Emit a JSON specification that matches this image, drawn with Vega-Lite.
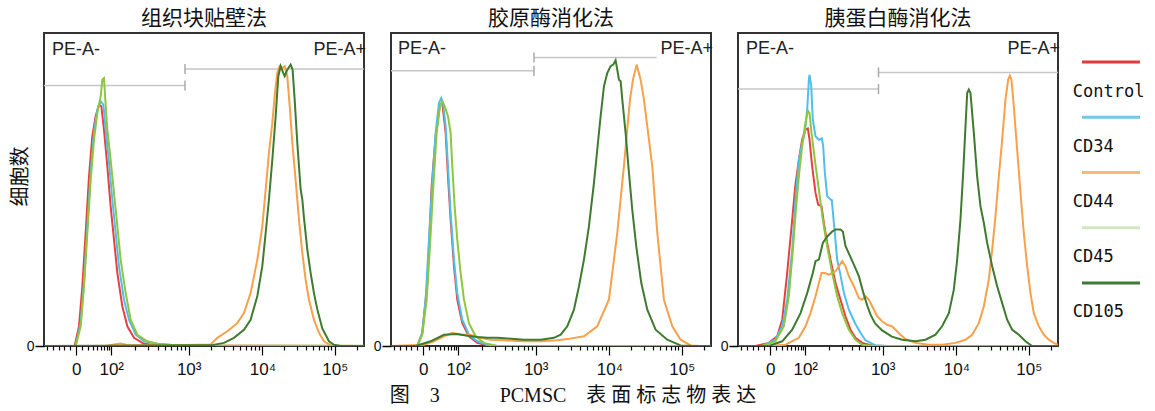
{
  "$schema": "https://vega.github.io/schema/vega-lite/v6.json",
  "background": "white",
  "padding": {"left": 9, "top": 7, "right": 5, "bottom": 5},
  "config": {
    "view": {"stroke": "#333", "strokeWidth": 2},
    "font": "Liberation Sans",
    "title": {"font": "Noto Sans CJK SC", "fontSize": 21, "fontWeight": "normal", "color": "#111", "offset": 4},
    "axis": {"labelFont": "Liberation Sans", "labelColor": "#111", "tickColor": "#111", "domain": false, "grid": false}
  },
  "datasets": {
    "gates": [
      {"p": 1, "gate": "PE-A-", "x": -0.44, "x2": 1.49, "y": 83.2},
      {"p": 1, "gate": "PE-A+", "x": 1.49, "x2": 3.94, "y": 88.5},
      {"p": 2, "gate": "PE-A-", "x": -0.44, "x2": 1.517, "y": 87.9},
      {"p": 2, "gate": "PE-A+", "x": 1.517, "x2": 3.196, "y": 92.2},
      {"p": 3, "gate": "PE-A-", "x": -0.44, "x2": 1.483, "y": 82.1},
      {"p": 3, "gate": "PE-A+", "x": 1.483, "x2": 3.94, "y": 87.4}
    ],
    "caps": [
      {"p": 1, "x": 1.49, "y": 81.6, "y2": 84.8},
      {"p": 1, "x": 1.49, "y": 86.9, "y2": 90.1},
      {"p": 2, "x": 1.517, "y": 86.3, "y2": 89.5},
      {"p": 2, "x": 1.517, "y": 90.6, "y2": 93.8},
      {"p": 3, "x": 1.483, "y": 80.5, "y2": 83.7},
      {"p": 3, "x": 1.483, "y": 85.8, "y2": 89.0}
    ],
    "labels": [
      {"p": 1, "label": "PE-A-", "x": -0.44, "y": 100},
      {"p": 1, "label": "PE-A+", "x": 3.94, "y": 100},
      {"p": 2, "label": "PE-A-", "x": -0.44, "y": 100},
      {"p": 2, "label": "PE-A+", "x": 3.94, "y": 100},
      {"p": 3, "label": "PE-A-", "x": -0.44, "y": 100},
      {"p": 3, "label": "PE-A+", "x": 3.94, "y": 100}
    ],
    "legend": [{"m": "Control"}, {"m": "CD34"}, {"m": "CD44"}, {"m": "CD45"}, {"m": "CD105"}],
    "curves": [
      {"p":1,"m":"Control","x":-0.44,"y":0},{"p":1,"m":"Control","x":-0.02,"y":0},{"p":1,"m":"Control","x":0.039,"y":6.3},{"p":1,"m":"Control","x":0.085,"y":19.1},{"p":1,"m":"Control","x":0.13,"y":36.1},{"p":1,"m":"Control","x":0.176,"y":54.2},{"p":1,"m":"Control","x":0.221,"y":67},{"p":1,"m":"Control","x":0.267,"y":73.4},{"p":1,"m":"Control","x":0.313,"y":77.1},{"p":1,"m":"Control","x":0.345,"y":76.6},{"p":1,"m":"Control","x":0.381,"y":69.1},{"p":1,"m":"Control","x":0.427,"y":57.4},{"p":1,"m":"Control","x":0.472,"y":44.6},{"p":1,"m":"Control","x":0.518,"y":34},{"p":1,"m":"Control","x":0.564,"y":23.3},{"p":1,"m":"Control","x":0.632,"y":12.7},{"p":1,"m":"Control","x":0.701,"y":6.3},{"p":1,"m":"Control","x":0.792,"y":2.6},{"p":1,"m":"Control","x":0.929,"y":0.7},{"p":1,"m":"Control","x":1.157,"y":0.1},{"p":1,"m":"Control","x":3.94,"y":0},
      {"p":1,"m":"CD34","x":-0.44,"y":0},{"p":1,"m":"CD34","x":-0.007,"y":0},{"p":1,"m":"CD34","x":0.062,"y":7.3},{"p":1,"m":"CD34","x":0.107,"y":20.1},{"p":1,"m":"CD34","x":0.153,"y":38.2},{"p":1,"m":"CD34","x":0.199,"y":55.3},{"p":1,"m":"CD34","x":0.244,"y":68.1},{"p":1,"m":"CD34","x":0.29,"y":75.5},{"p":1,"m":"CD34","x":0.336,"y":78.2},{"p":1,"m":"CD34","x":0.372,"y":77.1},{"p":1,"m":"CD34","x":0.404,"y":69.1},{"p":1,"m":"CD34","x":0.45,"y":58.5},{"p":1,"m":"CD34","x":0.495,"y":46.8},{"p":1,"m":"CD34","x":0.541,"y":36.1},{"p":1,"m":"CD34","x":0.586,"y":25.5},{"p":1,"m":"CD34","x":0.655,"y":14.8},{"p":1,"m":"CD34","x":0.723,"y":8.4},{"p":1,"m":"CD34","x":0.815,"y":3.6},{"p":1,"m":"CD34","x":0.929,"y":1.5},{"p":1,"m":"CD34","x":1.111,"y":0.7},{"p":1,"m":"CD34","x":1.385,"y":0.2},{"p":1,"m":"CD34","x":1.841,"y":0},{"p":1,"m":"CD34","x":3.94,"y":0},
      {"p":1,"m":"CD44","x":-0.44,"y":0},{"p":1,"m":"CD44","x":0.4,"y":0},{"p":1,"m":"CD44","x":0.541,"y":0.6},{"p":1,"m":"CD44","x":0.609,"y":0.8},{"p":1,"m":"CD44","x":0.7,"y":0.3},{"p":1,"m":"CD44","x":1.0,"y":0.2},{"p":1,"m":"CD44","x":1.5,"y":0.3},{"p":1,"m":"CD44","x":1.841,"y":0.5},{"p":1,"m":"CD44","x":1.932,"y":2.6},{"p":1,"m":"CD44","x":2.069,"y":4.7},{"p":1,"m":"CD44","x":2.206,"y":7.3},{"p":1,"m":"CD44","x":2.297,"y":10.5},{"p":1,"m":"CD44","x":2.388,"y":16.9},{"p":1,"m":"CD44","x":2.48,"y":27.6},{"p":1,"m":"CD44","x":2.548,"y":38.2},{"p":1,"m":"CD44","x":2.594,"y":49.9},{"p":1,"m":"CD44","x":2.639,"y":61.7},{"p":1,"m":"CD44","x":2.685,"y":71.2},{"p":1,"m":"CD44","x":2.721,"y":80.8},{"p":1,"m":"CD44","x":2.753,"y":87.2},{"p":1,"m":"CD44","x":2.785,"y":89.4},{"p":1,"m":"CD44","x":2.822,"y":88.8},{"p":1,"m":"CD44","x":2.854,"y":89.4},{"p":1,"m":"CD44","x":2.89,"y":86.2},{"p":1,"m":"CD44","x":2.927,"y":75.5},{"p":1,"m":"CD44","x":2.959,"y":64.9},{"p":1,"m":"CD44","x":3.004,"y":53.1},{"p":1,"m":"CD44","x":3.05,"y":40.4},{"p":1,"m":"CD44","x":3.096,"y":29.7},{"p":1,"m":"CD44","x":3.141,"y":21.2},{"p":1,"m":"CD44","x":3.187,"y":14.8},{"p":1,"m":"CD44","x":3.255,"y":8.4},{"p":1,"m":"CD44","x":3.324,"y":4.2},{"p":1,"m":"CD44","x":3.392,"y":1.5},{"p":1,"m":"CD44","x":3.483,"y":0.2},{"p":1,"m":"CD44","x":3.575,"y":0},{"p":1,"m":"CD44","x":3.94,"y":0},
      {"p":1,"m":"CD45","x":-0.44,"y":0},{"p":1,"m":"CD45","x":-0.007,"y":0},{"p":1,"m":"CD45","x":0.062,"y":6.3},{"p":1,"m":"CD45","x":0.107,"y":19.1},{"p":1,"m":"CD45","x":0.153,"y":36.1},{"p":1,"m":"CD45","x":0.199,"y":53.1},{"p":1,"m":"CD45","x":0.244,"y":65.9},{"p":1,"m":"CD45","x":0.29,"y":74.4},{"p":1,"m":"CD45","x":0.336,"y":79.8},{"p":1,"m":"CD45","x":0.358,"y":85.1},{"p":1,"m":"CD45","x":0.381,"y":85.6},{"p":1,"m":"CD45","x":0.399,"y":78.7},{"p":1,"m":"CD45","x":0.427,"y":69.1},{"p":1,"m":"CD45","x":0.472,"y":59.5},{"p":1,"m":"CD45","x":0.518,"y":48.9},{"p":1,"m":"CD45","x":0.564,"y":38.2},{"p":1,"m":"CD45","x":0.609,"y":27.6},{"p":1,"m":"CD45","x":0.678,"y":16.9},{"p":1,"m":"CD45","x":0.746,"y":8.4},{"p":1,"m":"CD45","x":0.837,"y":3.6},{"p":1,"m":"CD45","x":0.974,"y":1.5},{"p":1,"m":"CD45","x":1.111,"y":0.7},{"p":1,"m":"CD45","x":1.385,"y":0.2},{"p":1,"m":"CD45","x":1.841,"y":0.1},{"p":1,"m":"CD45","x":3.94,"y":0.1},
      {"p":1,"m":"CD105","x":-0.44,"y":0},{"p":1,"m":"CD105","x":1.841,"y":0.2},{"p":1,"m":"CD105","x":2.024,"y":1},{"p":1,"m":"CD105","x":2.16,"y":2.6},{"p":1,"m":"CD105","x":2.297,"y":5.2},{"p":1,"m":"CD105","x":2.388,"y":8.4},{"p":1,"m":"CD105","x":2.48,"y":16},{"p":1,"m":"CD105","x":2.548,"y":25.5},{"p":1,"m":"CD105","x":2.594,"y":36.1},{"p":1,"m":"CD105","x":2.639,"y":46.8},{"p":1,"m":"CD105","x":2.685,"y":59.5},{"p":1,"m":"CD105","x":2.731,"y":73.4},{"p":1,"m":"CD105","x":2.767,"y":86.2},{"p":1,"m":"CD105","x":2.799,"y":89.4},{"p":1,"m":"CD105","x":2.836,"y":87.2},{"p":1,"m":"CD105","x":2.854,"y":86.2},{"p":1,"m":"CD105","x":2.89,"y":88.3},{"p":1,"m":"CD105","x":2.936,"y":89.9},{"p":1,"m":"CD105","x":2.963,"y":88.3},{"p":1,"m":"CD105","x":2.991,"y":78.7},{"p":1,"m":"CD105","x":3.027,"y":64.9},{"p":1,"m":"CD105","x":3.073,"y":50},{"p":1,"m":"CD105","x":3.096,"y":46.8},{"p":1,"m":"CD105","x":3.118,"y":41},{"p":1,"m":"CD105","x":3.164,"y":30.8},{"p":1,"m":"CD105","x":3.21,"y":23.3},{"p":1,"m":"CD105","x":3.255,"y":16.9},{"p":1,"m":"CD105","x":3.301,"y":11.7},{"p":1,"m":"CD105","x":3.369,"y":5.6},{"p":1,"m":"CD105","x":3.461,"y":1.5},{"p":1,"m":"CD105","x":3.529,"y":0.4},{"p":1,"m":"CD105","x":3.62,"y":0},{"p":1,"m":"CD105","x":3.94,"y":0},

      {"p":2,"m":"Control","x":-0.44,"y":0},{"p":2,"m":"Control","x":-0.08,"y":0},{"p":2,"m":"Control","x":-0.012,"y":4.2},{"p":2,"m":"Control","x":0.057,"y":20.1},{"p":2,"m":"Control","x":0.116,"y":51},{"p":2,"m":"Control","x":0.171,"y":67},{"p":2,"m":"Control","x":0.23,"y":77.1},{"p":2,"m":"Control","x":0.262,"y":77.6},{"p":2,"m":"Control","x":0.308,"y":68.1},{"p":2,"m":"Control","x":0.34,"y":54.2},{"p":2,"m":"Control","x":0.376,"y":40.4},{"p":2,"m":"Control","x":0.422,"y":25.5},{"p":2,"m":"Control","x":0.467,"y":14.8},{"p":2,"m":"Control","x":0.536,"y":7.3},{"p":2,"m":"Control","x":0.627,"y":3.1},{"p":2,"m":"Control","x":0.741,"y":1},{"p":2,"m":"Control","x":0.924,"y":0},{"p":2,"m":"Control","x":3.94,"y":0},
      {"p":2,"m":"CD34","x":-0.44,"y":0},{"p":2,"m":"CD34","x":-0.08,"y":0},{"p":2,"m":"CD34","x":-0.012,"y":4.2},{"p":2,"m":"CD34","x":0.034,"y":14.8},{"p":2,"m":"CD34","x":0.08,"y":34},{"p":2,"m":"CD34","x":0.125,"y":52.1},{"p":2,"m":"CD34","x":0.171,"y":68.1},{"p":2,"m":"CD34","x":0.216,"y":77.6},{"p":2,"m":"CD34","x":0.248,"y":79.2},{"p":2,"m":"CD34","x":0.276,"y":77.1},{"p":2,"m":"CD34","x":0.308,"y":70.2},{"p":2,"m":"CD34","x":0.34,"y":57.4},{"p":2,"m":"CD34","x":0.376,"y":42.5},{"p":2,"m":"CD34","x":0.422,"y":27.6},{"p":2,"m":"CD34","x":0.467,"y":16.9},{"p":2,"m":"CD34","x":0.536,"y":8.4},{"p":2,"m":"CD34","x":0.627,"y":3.6},{"p":2,"m":"CD34","x":0.741,"y":1.5},{"p":2,"m":"CD34","x":0.878,"y":0.4},{"p":2,"m":"CD34","x":1.015,"y":0},{"p":2,"m":"CD34","x":3.94,"y":0},
      {"p":2,"m":"CD44","x":-0.44,"y":0},{"p":2,"m":"CD44","x":0.011,"y":0.4},{"p":2,"m":"CD44","x":0.148,"y":1.5},{"p":2,"m":"CD44","x":0.285,"y":3.1},{"p":2,"m":"CD44","x":0.399,"y":4.2},{"p":2,"m":"CD44","x":0.513,"y":3.6},{"p":2,"m":"CD44","x":0.65,"y":3.6},{"p":2,"m":"CD44","x":0.787,"y":2.6},{"p":2,"m":"CD44","x":0.924,"y":2},{"p":2,"m":"CD44","x":1.106,"y":1.8},{"p":2,"m":"CD44","x":1.38,"y":1.5},{"p":2,"m":"CD44","x":1.608,"y":1.5},{"p":2,"m":"CD44","x":1.836,"y":1.8},{"p":2,"m":"CD44","x":1.973,"y":2.2},{"p":2,"m":"CD44","x":2.201,"y":3.1},{"p":2,"m":"CD44","x":2.383,"y":6.3},{"p":2,"m":"CD44","x":2.543,"y":14.8},{"p":2,"m":"CD44","x":2.657,"y":36.1},{"p":2,"m":"CD44","x":2.748,"y":57.4},{"p":2,"m":"CD44","x":2.831,"y":78.7},{"p":2,"m":"CD44","x":2.872,"y":85.1},{"p":2,"m":"CD44","x":2.922,"y":89.9},{"p":2,"m":"CD44","x":2.94,"y":88.3},{"p":2,"m":"CD44","x":2.977,"y":85.1},{"p":2,"m":"CD44","x":3.022,"y":78.7},{"p":2,"m":"CD44","x":3.136,"y":57.4},{"p":2,"m":"CD44","x":3.205,"y":36.1},{"p":2,"m":"CD44","x":3.296,"y":14.8},{"p":2,"m":"CD44","x":3.41,"y":6.3},{"p":2,"m":"CD44","x":3.524,"y":2},{"p":2,"m":"CD44","x":3.661,"y":0.2},{"p":2,"m":"CD44","x":3.8,"y":0},{"p":2,"m":"CD44","x":3.94,"y":0},
      {"p":2,"m":"CD45","x":-0.44,"y":0},{"p":2,"m":"CD45","x":-0.08,"y":0},{"p":2,"m":"CD45","x":-0.012,"y":3.6},{"p":2,"m":"CD45","x":0.048,"y":14.8},{"p":2,"m":"CD45","x":0.093,"y":31.8},{"p":2,"m":"CD45","x":0.139,"y":51},{"p":2,"m":"CD45","x":0.185,"y":68.1},{"p":2,"m":"CD45","x":0.23,"y":76.6},{"p":2,"m":"CD45","x":0.262,"y":78.2},{"p":2,"m":"CD45","x":0.294,"y":76.6},{"p":2,"m":"CD45","x":0.34,"y":73.4},{"p":2,"m":"CD45","x":0.376,"y":68.1},{"p":2,"m":"CD45","x":0.399,"y":57.4},{"p":2,"m":"CD45","x":0.431,"y":44.6},{"p":2,"m":"CD45","x":0.467,"y":34},{"p":2,"m":"CD45","x":0.513,"y":23.3},{"p":2,"m":"CD45","x":0.559,"y":14.8},{"p":2,"m":"CD45","x":0.627,"y":7.3},{"p":2,"m":"CD45","x":0.718,"y":3.1},{"p":2,"m":"CD45","x":0.832,"y":1},{"p":2,"m":"CD45","x":1.015,"y":0},{"p":2,"m":"CD45","x":3.94,"y":0},
      {"p":2,"m":"CD105","x":-0.44,"y":0},{"p":2,"m":"CD105","x":-0.1,"y":0},{"p":2,"m":"CD105","x":0.102,"y":1.5},{"p":2,"m":"CD105","x":0.285,"y":3.6},{"p":2,"m":"CD105","x":0.467,"y":3.8},{"p":2,"m":"CD105","x":0.604,"y":3.3},{"p":2,"m":"CD105","x":0.741,"y":2.9},{"p":2,"m":"CD105","x":0.878,"y":2.6},{"p":2,"m":"CD105","x":1.015,"y":2.6},{"p":2,"m":"CD105","x":1.152,"y":2.4},{"p":2,"m":"CD105","x":1.38,"y":2},{"p":2,"m":"CD105","x":1.608,"y":2},{"p":2,"m":"CD105","x":1.79,"y":2.6},{"p":2,"m":"CD105","x":1.882,"y":3.6},{"p":2,"m":"CD105","x":1.973,"y":6.3},{"p":2,"m":"CD105","x":2.064,"y":11.6},{"p":2,"m":"CD105","x":2.133,"y":19.1},{"p":2,"m":"CD105","x":2.201,"y":27.6},{"p":2,"m":"CD105","x":2.269,"y":38.2},{"p":2,"m":"CD105","x":2.338,"y":52.1},{"p":2,"m":"CD105","x":2.383,"y":62.7},{"p":2,"m":"CD105","x":2.429,"y":73.4},{"p":2,"m":"CD105","x":2.475,"y":83},{"p":2,"m":"CD105","x":2.52,"y":87.2},{"p":2,"m":"CD105","x":2.566,"y":89.4},{"p":2,"m":"CD105","x":2.602,"y":89.9},{"p":2,"m":"CD105","x":2.634,"y":91.3},{"p":2,"m":"CD105","x":2.657,"y":88.3},{"p":2,"m":"CD105","x":2.68,"y":85.1},{"p":2,"m":"CD105","x":2.703,"y":84.6},{"p":2,"m":"CD105","x":2.726,"y":78.7},{"p":2,"m":"CD105","x":2.771,"y":68.1},{"p":2,"m":"CD105","x":2.817,"y":55.3},{"p":2,"m":"CD105","x":2.862,"y":43.6},{"p":2,"m":"CD105","x":2.917,"y":31.8},{"p":2,"m":"CD105","x":2.986,"y":20.1},{"p":2,"m":"CD105","x":3.068,"y":11.6},{"p":2,"m":"CD105","x":3.182,"y":5.2},{"p":2,"m":"CD105","x":3.341,"y":2},{"p":2,"m":"CD105","x":3.524,"y":0.2},{"p":2,"m":"CD105","x":3.7,"y":0},{"p":2,"m":"CD105","x":3.94,"y":0},

      {"p":3,"m":"Control","x":-0.44,"y":0},{"p":3,"m":"Control","x":-0.2,"y":0},{"p":3,"m":"Control","x":-0.018,"y":1},{"p":3,"m":"Control","x":0.096,"y":3.1},{"p":3,"m":"Control","x":0.165,"y":8.4},{"p":3,"m":"Control","x":0.233,"y":23.3},{"p":3,"m":"Control","x":0.302,"y":40.4},{"p":3,"m":"Control","x":0.343,"y":50.9},{"p":3,"m":"Control","x":0.393,"y":59.5},{"p":3,"m":"Control","x":0.438,"y":66},{"p":3,"m":"Control","x":0.484,"y":69.1},{"p":3,"m":"Control","x":0.516,"y":69.5},{"p":3,"m":"Control","x":0.539,"y":65.9},{"p":3,"m":"Control","x":0.575,"y":57.4},{"p":3,"m":"Control","x":0.621,"y":48.9},{"p":3,"m":"Control","x":0.657,"y":45.2},{"p":3,"m":"Control","x":0.704,"y":44.6},{"p":3,"m":"Control","x":0.735,"y":39.3},{"p":3,"m":"Control","x":0.781,"y":32.9},{"p":3,"m":"Control","x":0.826,"y":27.6},{"p":3,"m":"Control","x":0.895,"y":20.1},{"p":3,"m":"Control","x":0.963,"y":14.8},{"p":3,"m":"Control","x":1.031,"y":9.5},{"p":3,"m":"Control","x":1.1,"y":5.2},{"p":3,"m":"Control","x":1.168,"y":2.6},{"p":3,"m":"Control","x":1.26,"y":1},{"p":3,"m":"Control","x":1.396,"y":0.2},{"p":3,"m":"Control","x":1.579,"y":0},{"p":3,"m":"Control","x":3.94,"y":0},
      {"p":3,"m":"CD34","x":-0.44,"y":0},{"p":3,"m":"CD34","x":-0.109,"y":0},{"p":3,"m":"CD34","x":0.073,"y":2},{"p":3,"m":"CD34","x":0.165,"y":6.3},{"p":3,"m":"CD34","x":0.233,"y":14.8},{"p":3,"m":"CD34","x":0.302,"y":30.8},{"p":3,"m":"CD34","x":0.347,"y":46.8},{"p":3,"m":"CD34","x":0.393,"y":59.5},{"p":3,"m":"CD34","x":0.438,"y":64.9},{"p":3,"m":"CD34","x":0.475,"y":68.1},{"p":3,"m":"CD34","x":0.507,"y":75.5},{"p":3,"m":"CD34","x":0.53,"y":85.1},{"p":3,"m":"CD34","x":0.539,"y":86.6},{"p":3,"m":"CD34","x":0.562,"y":83},{"p":3,"m":"CD34","x":0.584,"y":72.3},{"p":3,"m":"CD34","x":0.621,"y":67},{"p":3,"m":"CD34","x":0.667,"y":65.9},{"p":3,"m":"CD34","x":0.708,"y":66.3},{"p":3,"m":"CD34","x":0.726,"y":63.8},{"p":3,"m":"CD34","x":0.749,"y":55.3},{"p":3,"m":"CD34","x":0.781,"y":47.9},{"p":3,"m":"CD34","x":0.826,"y":46.8},{"p":3,"m":"CD34","x":0.844,"y":46.6},{"p":3,"m":"CD34","x":0.885,"y":36.1},{"p":3,"m":"CD34","x":0.917,"y":27.6},{"p":3,"m":"CD34","x":0.958,"y":23.2},{"p":3,"m":"CD34","x":1.009,"y":17},{"p":3,"m":"CD34","x":1.077,"y":11.6},{"p":3,"m":"CD34","x":1.164,"y":7.2},{"p":3,"m":"CD34","x":1.237,"y":4.2},{"p":3,"m":"CD34","x":1.301,"y":1.9},{"p":3,"m":"CD34","x":1.442,"y":0.2},{"p":3,"m":"CD34","x":1.625,"y":0},{"p":3,"m":"CD34","x":3.94,"y":0},
      {"p":3,"m":"CD44","x":-0.44,"y":0},{"p":3,"m":"CD44","x":-0.018,"y":0},{"p":3,"m":"CD44","x":0.21,"y":0.4},{"p":3,"m":"CD44","x":0.393,"y":2.6},{"p":3,"m":"CD44","x":0.484,"y":6.3},{"p":3,"m":"CD44","x":0.552,"y":10.5},{"p":3,"m":"CD44","x":0.621,"y":15.9},{"p":3,"m":"CD44","x":0.667,"y":20.1},{"p":3,"m":"CD44","x":0.703,"y":23.3},{"p":3,"m":"CD44","x":0.749,"y":23.3},{"p":3,"m":"CD44","x":0.803,"y":22.8},{"p":3,"m":"CD44","x":0.849,"y":23.3},{"p":3,"m":"CD44","x":0.895,"y":23.9},{"p":3,"m":"CD44","x":0.94,"y":25.5},{"p":3,"m":"CD44","x":0.986,"y":27.1},{"p":3,"m":"CD44","x":1.031,"y":25.5},{"p":3,"m":"CD44","x":1.077,"y":22.3},{"p":3,"m":"CD44","x":1.146,"y":19.1},{"p":3,"m":"CD44","x":1.214,"y":15.3},{"p":3,"m":"CD44","x":1.26,"y":14.8},{"p":3,"m":"CD44","x":1.305,"y":15.9},{"p":3,"m":"CD44","x":1.351,"y":14.8},{"p":3,"m":"CD44","x":1.396,"y":12.7},{"p":3,"m":"CD44","x":1.465,"y":9.5},{"p":3,"m":"CD44","x":1.533,"y":7.9},{"p":3,"m":"CD44","x":1.602,"y":6.8},{"p":3,"m":"CD44","x":1.67,"y":6.3},{"p":3,"m":"CD44","x":1.716,"y":5.2},{"p":3,"m":"CD44","x":1.784,"y":3.6},{"p":3,"m":"CD44","x":1.853,"y":2.2},{"p":3,"m":"CD44","x":1.99,"y":1},{"p":3,"m":"CD44","x":2.172,"y":0.4},{"p":3,"m":"CD44","x":2.354,"y":0.4},{"p":3,"m":"CD44","x":2.537,"y":1},{"p":3,"m":"CD44","x":2.674,"y":2},{"p":3,"m":"CD44","x":2.765,"y":3.6},{"p":3,"m":"CD44","x":2.856,"y":7.3},{"p":3,"m":"CD44","x":2.925,"y":12.7},{"p":3,"m":"CD44","x":2.993,"y":21.2},{"p":3,"m":"CD44","x":3.039,"y":30.8},{"p":3,"m":"CD44","x":3.084,"y":41.4},{"p":3,"m":"CD44","x":3.13,"y":54.2},{"p":3,"m":"CD44","x":3.176,"y":65.9},{"p":3,"m":"CD44","x":3.221,"y":78.7},{"p":3,"m":"CD44","x":3.258,"y":85.1},{"p":3,"m":"CD44","x":3.281,"y":86.4},{"p":3,"m":"CD44","x":3.303,"y":85.1},{"p":3,"m":"CD44","x":3.335,"y":76.6},{"p":3,"m":"CD44","x":3.381,"y":62.7},{"p":3,"m":"CD44","x":3.427,"y":48.9},{"p":3,"m":"CD44","x":3.472,"y":36.1},{"p":3,"m":"CD44","x":3.518,"y":25.5},{"p":3,"m":"CD44","x":3.563,"y":16.9},{"p":3,"m":"CD44","x":3.609,"y":10.5},{"p":3,"m":"CD44","x":3.677,"y":6.3},{"p":3,"m":"CD44","x":3.746,"y":3.6},{"p":3,"m":"CD44","x":3.814,"y":2},{"p":3,"m":"CD44","x":3.883,"y":1},{"p":3,"m":"CD44","x":3.94,"y":0.4},
      {"p":3,"m":"CD45","x":-0.44,"y":0},{"p":3,"m":"CD45","x":-0.109,"y":0},{"p":3,"m":"CD45","x":0.073,"y":1.5},{"p":3,"m":"CD45","x":0.188,"y":6.3},{"p":3,"m":"CD45","x":0.256,"y":15.9},{"p":3,"m":"CD45","x":0.311,"y":30.8},{"p":3,"m":"CD45","x":0.356,"y":44.6},{"p":3,"m":"CD45","x":0.402,"y":56.3},{"p":3,"m":"CD45","x":0.438,"y":63.8},{"p":3,"m":"CD45","x":0.475,"y":70.2},{"p":3,"m":"CD45","x":0.516,"y":75.2},{"p":3,"m":"CD45","x":0.539,"y":74.4},{"p":3,"m":"CD45","x":0.566,"y":68.1},{"p":3,"m":"CD45","x":0.612,"y":59.5},{"p":3,"m":"CD45","x":0.667,"y":49.9},{"p":3,"m":"CD45","x":0.721,"y":40.4},{"p":3,"m":"CD45","x":0.781,"y":31.8},{"p":3,"m":"CD45","x":0.849,"y":23.3},{"p":3,"m":"CD45","x":0.917,"y":15.9},{"p":3,"m":"CD45","x":0.986,"y":10.5},{"p":3,"m":"CD45","x":1.077,"y":5.2},{"p":3,"m":"CD45","x":1.168,"y":2},{"p":3,"m":"CD45","x":1.26,"y":0.4},{"p":3,"m":"CD45","x":1.442,"y":0},{"p":3,"m":"CD45","x":3.94,"y":0},
      {"p":3,"m":"CD105","x":-0.44,"y":0},{"p":3,"m":"CD105","x":-0.018,"y":0},{"p":3,"m":"CD105","x":0.165,"y":1.5},{"p":3,"m":"CD105","x":0.302,"y":5.2},{"p":3,"m":"CD105","x":0.416,"y":10.5},{"p":3,"m":"CD105","x":0.507,"y":16.9},{"p":3,"m":"CD105","x":0.584,"y":23.3},{"p":3,"m":"CD105","x":0.621,"y":27.1},{"p":3,"m":"CD105","x":0.667,"y":27.6},{"p":3,"m":"CD105","x":0.721,"y":32.9},{"p":3,"m":"CD105","x":0.781,"y":35},{"p":3,"m":"CD105","x":0.849,"y":36.6},{"p":3,"m":"CD105","x":0.895,"y":37.2},{"p":3,"m":"CD105","x":0.963,"y":37.2},{"p":3,"m":"CD105","x":0.995,"y":36.6},{"p":3,"m":"CD105","x":1.031,"y":32},{"p":3,"m":"CD105","x":1.077,"y":29.6},{"p":3,"m":"CD105","x":1.146,"y":26},{"p":3,"m":"CD105","x":1.214,"y":22.3},{"p":3,"m":"CD105","x":1.278,"y":16.8},{"p":3,"m":"CD105","x":1.328,"y":13},{"p":3,"m":"CD105","x":1.374,"y":10},{"p":3,"m":"CD105","x":1.437,"y":7.2},{"p":3,"m":"CD105","x":1.533,"y":5},{"p":3,"m":"CD105","x":1.666,"y":3},{"p":3,"m":"CD105","x":1.807,"y":2},{"p":3,"m":"CD105","x":1.99,"y":1.5},{"p":3,"m":"CD105","x":2.126,"y":2},{"p":3,"m":"CD105","x":2.263,"y":3.6},{"p":3,"m":"CD105","x":2.354,"y":6.3},{"p":3,"m":"CD105","x":2.446,"y":10.5},{"p":3,"m":"CD105","x":2.514,"y":18},{"p":3,"m":"CD105","x":2.56,"y":27.6},{"p":3,"m":"CD105","x":2.605,"y":40.4},{"p":3,"m":"CD105","x":2.642,"y":55.3},{"p":3,"m":"CD105","x":2.674,"y":70.2},{"p":3,"m":"CD105","x":2.697,"y":80.8},{"p":3,"m":"CD105","x":2.719,"y":81.9},{"p":3,"m":"CD105","x":2.742,"y":80.8},{"p":3,"m":"CD105","x":2.788,"y":68.1},{"p":3,"m":"CD105","x":2.833,"y":54.2},{"p":3,"m":"CD105","x":2.879,"y":44.6},{"p":3,"m":"CD105","x":2.925,"y":39.3},{"p":3,"m":"CD105","x":2.97,"y":33},{"p":3,"m":"CD105","x":3.039,"y":25.5},{"p":3,"m":"CD105","x":3.107,"y":19.1},{"p":3,"m":"CD105","x":3.176,"y":13.7},{"p":3,"m":"CD105","x":3.244,"y":8.4},{"p":3,"m":"CD105","x":3.313,"y":5.2},{"p":3,"m":"CD105","x":3.404,"y":3.6},{"p":3,"m":"CD105","x":3.495,"y":1.5},{"p":3,"m":"CD105","x":3.586,"y":0},{"p":3,"m":"CD105","x":3.94,"y":0}
    ]
  },
  "title": {
    "text": "图　3　　　PCMSC　表 面 标 志 物 表 达",
    "orient": "bottom", "anchor": "middle",
    "font": "Liberation Serif, Noto Sans CJK SC", "fontSize": 20, "fontWeight": "normal", "color": "#111", "offset": 8, "dx": -6
  },
  "spacing": 5,
  "resolve": {"scale": {"color": "independent"}},
  "hconcat": [
    {
      "width": 320, "height": 313,
      "title": "组织块贴壁法",
      "encoding": {
        "x": {"field": "x", "type": "quantitative", "scale": {"domain": [-0.44, 3.94], "nice": false, "zero": false},
          "axis": {"title": null, "values": [-0.4,-0.32,-0.24,-0.16,-0.08,0,0.08,0.16,0.23,0.29,0.34,0.38,0.42,0.45,0.48,0.799,0.986,1.118,1.221,1.305,1.376,1.437,1.491,1.54,1.844,2.022,2.148,2.246,2.326,2.393,2.452,2.504,2.55,2.848,3.022,3.146,3.242,3.32,3.387,3.444,3.494,3.54,3.838],
            "labelExpr": "datum.value == 0 ? '0' : datum.value == 0.48 ? '10²' : datum.value == 1.54 ? '10³' : datum.value == 2.55 ? '10⁴' : datum.value == 3.54 ? '10⁵' : ''",
            "tickSize": {"condition": {"test": "indexof([0,0.48,1.54,2.55,3.54], datum.value) >= 0", "value": 9}, "value": 4},
            "tickWidth": 1.2, "tickColor": "#000", "labelFontSize": 17, "labelPadding": 6, "labelOverlap": false, "labelFlush": false, "domain": false, "grid": false}},
        "y": {"field": "y", "type": "quantitative", "scale": {"domain": [0, 100], "nice": false},
          "axis": {"values": [0], "title": "细胞数", "titleFont": "Noto Sans CJK SC", "titleFontSize": 20, "titleFontWeight": "normal", "titleColor": "#111", "titleX": -24, "titleY": 143, "titleBaseline": "middle", "titleAlign": "center", "tickSize": 9, "tickWidth": 1.5, "tickColor": "#000", "labelFontSize": 14, "labelPadding": 1, "domain": false, "grid": false}}
      },
      "layer": [
        {"data": {"name": "gates"}, "transform": [{"filter": "datum.p == 1"}],
         "mark": {"type": "rule", "color": "#c6c6c6", "strokeWidth": 1.5},
         "encoding": {"x2": {"field": "x2"}}},
        {"data": {"name": "caps"}, "transform": [{"filter": "datum.p == 1"}],
         "mark": {"type": "rule", "color": "#aaaaaa", "strokeWidth": 1.5},
         "encoding": {"y2": {"field": "y2"}}},
        {"data": {"name": "labels"}, "transform": [{"filter": "datum.p == 1 && datum.label == 'PE-A-'"}],
         "mark": {"type": "text", "align": "left", "baseline": "alphabetic", "dx": 8, "dy": 22, "fontSize": 18, "font": "Liberation Sans", "color": "#222"},
         "encoding": {"text": {"field": "label"}}},
        {"data": {"name": "labels"}, "transform": [{"filter": "datum.p == 1 && datum.label == 'PE-A+'"}],
         "mark": {"type": "text", "align": "right", "baseline": "alphabetic", "dx": 2, "dy": 22, "fontSize": 18, "font": "Liberation Sans", "color": "#222"},
         "encoding": {"text": {"field": "label"}}},
        {"data": {"name": "curves"}, "transform": [{"filter": "datum.p == 1"}],
         "mark": {"type": "line", "strokeWidth": 2, "clip": true},
         "encoding": {
           "color": {"field": "m", "type": "nominal", "legend": null,
             "scale": {"domain": ["Control", "CD34", "CD44", "CD45", "CD105"], "range": ["#e8403f", "#4fbfec", "#f8a04a", "#8dc63f", "#3e7b2f"]}}}}
      ]
    },
    {
      "width": 320, "height": 313,
      "title": "胶原酶消化法",
      "encoding": {
        "x": {"field": "x", "type": "quantitative", "scale": {"domain": [-0.44, 3.94], "nice": false, "zero": false},
          "axis": {"title": null, "values": [-0.4,-0.32,-0.24,-0.16,-0.08,0,0.08,0.16,0.23,0.29,0.34,0.38,0.42,0.45,0.48,0.799,0.986,1.118,1.221,1.305,1.376,1.437,1.491,1.54,1.844,2.022,2.148,2.246,2.326,2.393,2.452,2.504,2.55,2.848,3.022,3.146,3.242,3.32,3.387,3.444,3.494,3.54,3.838],
            "labelExpr": "datum.value == 0 ? '0' : datum.value == 0.48 ? '10²' : datum.value == 1.54 ? '10³' : datum.value == 2.55 ? '10⁴' : datum.value == 3.54 ? '10⁵' : ''",
            "tickSize": {"condition": {"test": "indexof([0,0.48,1.54,2.55,3.54], datum.value) >= 0", "value": 9}, "value": 4},
            "tickWidth": 1.2, "tickColor": "#000", "labelFontSize": 17, "labelPadding": 6, "labelOverlap": false, "labelFlush": false, "domain": false, "grid": false}},
        "y": {"field": "y", "type": "quantitative", "scale": {"domain": [0, 100], "nice": false},
          "axis": {"values": [0], "title": null, "tickSize": 9, "tickWidth": 1.5, "tickColor": "#000", "labelFontSize": 14, "labelPadding": 1, "domain": false, "grid": false}}
      },
      "layer": [
        {"data": {"name": "gates"}, "transform": [{"filter": "datum.p == 2"}],
         "mark": {"type": "rule", "color": "#c6c6c6", "strokeWidth": 1.5},
         "encoding": {"x2": {"field": "x2"}}},
        {"data": {"name": "caps"}, "transform": [{"filter": "datum.p == 2"}],
         "mark": {"type": "rule", "color": "#aaaaaa", "strokeWidth": 1.5},
         "encoding": {"y2": {"field": "y2"}}},
        {"data": {"name": "labels"}, "transform": [{"filter": "datum.p == 2 && datum.label == 'PE-A-'"}],
         "mark": {"type": "text", "align": "left", "baseline": "alphabetic", "dx": 7, "dy": 21, "fontSize": 18, "font": "Liberation Sans", "color": "#222"},
         "encoding": {"text": {"field": "label"}}},
        {"data": {"name": "labels"}, "transform": [{"filter": "datum.p == 2 && datum.label == 'PE-A+'"}],
         "mark": {"type": "text", "align": "right", "baseline": "alphabetic", "dx": 2, "dy": 21, "fontSize": 18, "font": "Liberation Sans", "color": "#222"},
         "encoding": {"text": {"field": "label"}}},
        {"data": {"name": "curves"}, "transform": [{"filter": "datum.p == 2"}],
         "mark": {"type": "line", "strokeWidth": 2, "clip": true},
         "encoding": {
           "color": {"field": "m", "type": "nominal", "legend": null,
             "scale": {"domain": ["Control", "CD34", "CD44", "CD45", "CD105"], "range": ["#e8403f", "#4fbfec", "#f8a04a", "#8dc63f", "#3e7b2f"]}}}}
      ]
    },
    {
      "width": 320, "height": 313,
      "title": "胰蛋白酶消化法",
      "encoding": {
        "x": {"field": "x", "type": "quantitative", "scale": {"domain": [-0.44, 3.94], "nice": false, "zero": false},
          "axis": {"title": null, "values": [-0.4,-0.32,-0.24,-0.16,-0.08,0,0.08,0.16,0.23,0.29,0.34,0.38,0.42,0.45,0.48,0.799,0.986,1.118,1.221,1.305,1.376,1.437,1.491,1.54,1.844,2.022,2.148,2.246,2.326,2.393,2.452,2.504,2.55,2.848,3.022,3.146,3.242,3.32,3.387,3.444,3.494,3.54,3.838],
            "labelExpr": "datum.value == 0 ? '0' : datum.value == 0.48 ? '10²' : datum.value == 1.54 ? '10³' : datum.value == 2.55 ? '10⁴' : datum.value == 3.54 ? '10⁵' : ''",
            "tickSize": {"condition": {"test": "indexof([0,0.48,1.54,2.55,3.54], datum.value) >= 0", "value": 9}, "value": 4},
            "tickWidth": 1.2, "tickColor": "#000", "labelFontSize": 17, "labelPadding": 6, "labelOverlap": false, "labelFlush": false, "domain": false, "grid": false}},
        "y": {"field": "y", "type": "quantitative", "scale": {"domain": [0, 100], "nice": false},
          "axis": {"values": [0], "title": null, "tickSize": 9, "tickWidth": 1.5, "tickColor": "#000", "labelFontSize": 14, "labelPadding": 1, "domain": false, "grid": false}}
      },
      "layer": [
        {"data": {"name": "gates"}, "transform": [{"filter": "datum.p == 3"}],
         "mark": {"type": "rule", "color": "#c6c6c6", "strokeWidth": 1.5},
         "encoding": {"x2": {"field": "x2"}}},
        {"data": {"name": "caps"}, "transform": [{"filter": "datum.p == 3"}],
         "mark": {"type": "rule", "color": "#aaaaaa", "strokeWidth": 1.5},
         "encoding": {"y2": {"field": "y2"}}},
        {"data": {"name": "labels"}, "transform": [{"filter": "datum.p == 3 && datum.label == 'PE-A-'"}],
         "mark": {"type": "text", "align": "left", "baseline": "alphabetic", "dx": 8, "dy": 21, "fontSize": 18, "font": "Liberation Sans", "color": "#222"},
         "encoding": {"text": {"field": "label"}}},
        {"data": {"name": "labels"}, "transform": [{"filter": "datum.p == 3 && datum.label == 'PE-A+'"}],
         "mark": {"type": "text", "align": "right", "baseline": "alphabetic", "dx": 2, "dy": 21, "fontSize": 18, "font": "Liberation Sans", "color": "#222"},
         "encoding": {"text": {"field": "label"}}},
        {"data": {"name": "curves"}, "transform": [{"filter": "datum.p == 3"}],
         "mark": {"type": "line", "strokeWidth": 2, "clip": true},
         "encoding": {
           "color": {"field": "m", "type": "nominal", "legend": null,
             "scale": {"domain": ["Control", "CD34", "CD44", "CD45", "CD105"], "range": ["#e8403f", "#4fbfec", "#f8a04a", "#8dc63f", "#3e7b2f"]}}}}
      ]
    },
    {
      "width": 83, "height": 279,
      "view": {"stroke": null},
      "data": {"name": "legend"},
      "layer": [
        {"mark": {"type": "rule", "strokeWidth": 3},
         "encoding": {
           "x": {"datum": 0.12, "type": "quantitative", "scale": {"domain": [-0.09, 1], "nice": false, "zero": false}, "axis": null},
           "x2": {"datum": 0.882},
           "y": {"field": "m", "type": "ordinal", "sort": ["Control", "CD34", "CD44", "CD45", "CD105"], "scale": {"type": "point", "padding": 0.525}, "axis": null},
           "color": {"field": "m", "type": "nominal", "legend": null,
             "scale": {"domain": ["Control", "CD34", "CD44", "CD45", "CD105"], "range": ["#e8393a", "#72c7ee", "#fcb871", "#d3e6bf", "#3d7a34"]}}}},
        {"mark": {"type": "text", "align": "left", "baseline": "middle", "dy": 29.5, "font": "DejaVu Sans Mono", "fontSize": 17, "color": "#111"},
         "encoding": {
           "x": {"datum": 0, "type": "quantitative", "scale": {"domain": [-0.09, 1], "nice": false, "zero": false}, "axis": null},
           "y": {"field": "m", "type": "ordinal", "sort": ["Control", "CD34", "CD44", "CD45", "CD105"], "scale": {"type": "point", "padding": 0.525}, "axis": null},
           "text": {"field": "m"}}}
      ]
    }
  ]
}
